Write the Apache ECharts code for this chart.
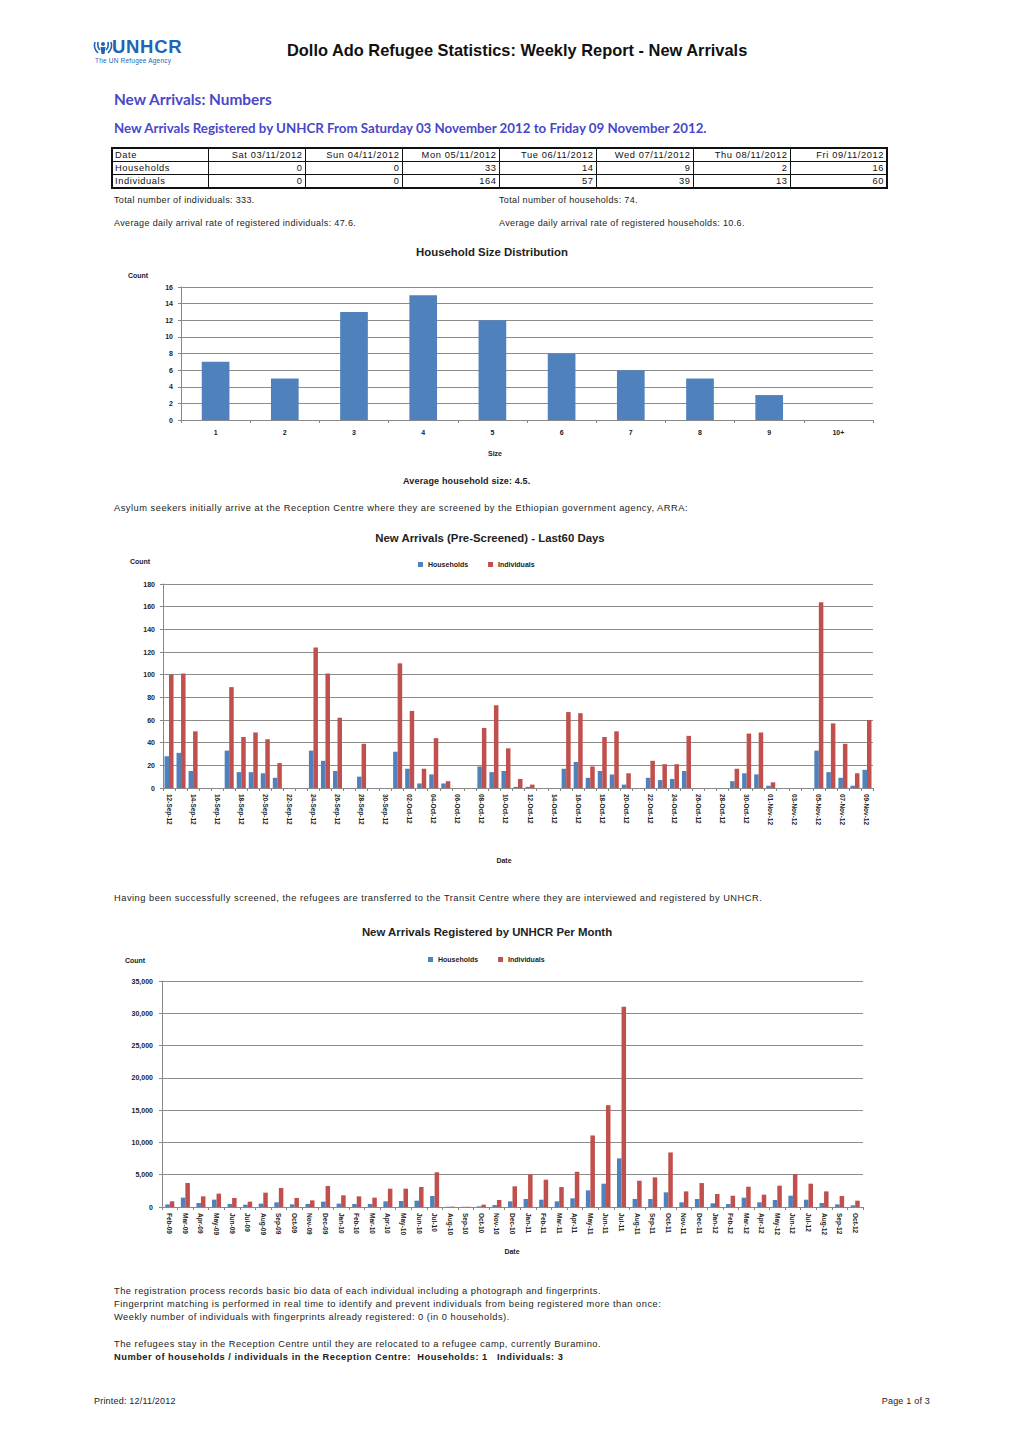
<!DOCTYPE html>
<html><head><meta charset="utf-8">
<script src="https://cdn.jsdelivr.net/npm/echarts@6/dist/echarts.min.js"></script>
<style>
html,body{margin:0;padding:0;background:#fff;}
#page{position:relative;width:1024px;height:1449px;overflow:hidden;font-family:'Liberation Sans',Arial,sans-serif;color:#1a1a1a;background:#fff;}
.t{position:absolute;white-space:nowrap;line-height:1;}
.small{font-size:9.3px;letter-spacing:0.5px;color:#222;}
.tiny{font-size:9px;letter-spacing:0.35px;color:#222;}
.chart{position:absolute;}
#tbl{position:absolute;left:111px;top:147px;width:774px;border-collapse:collapse;border:2px solid #111;font-size:9.3px;letter-spacing:0.6px;table-layout:fixed;color:#111;}
#tbl td{border:1px solid #111;padding:0 2px;height:12px;line-height:12px;text-align:right;white-space:nowrap;overflow:hidden;}
#tbl td:first-child{text-align:left;}
</style></head>
<body><div id="page">
  <!-- logo -->
  <svg class="t" style="left:92px;top:39px" width="22" height="18" viewBox="0 0 22 18">
    <g fill="none" stroke="#1f64b5" stroke-width="1.6">
      <path d="M3 3 Q1 9 6 14"/><path d="M19 3 Q21 9 16 14"/>
      <path d="M6 3 Q5 8 8 11"/><path d="M16 3 Q17 8 14 11"/>
    </g>
    <circle cx="11" cy="5" r="2" fill="#1f64b5"/>
    <path d="M8.5 8 L13.5 8 L12.5 15 L9.5 15 Z" fill="#1f64b5"/>
  </svg>
  <div class="t" style="left:112px;top:38px;font-size:18.5px;font-weight:bold;color:#1f64b5;letter-spacing:0.7px">UNHCR</div>
  <div class="t" style="left:95px;top:57.5px;font-size:6.5px;color:#1f64b5;letter-spacing:0.2px">The UN Refugee Agency</div>
  <div class="t" id="mainTitle" style="left:287px;top:42px;font-size:16.4px;font-weight:bold;color:#111">Dollo Ado Refugee Statistics: Weekly Report - New Arrivals</div>

  <div class="t" style="left:114px;top:92px;font-family:Lato,'Open Sans',sans-serif;font-size:15.4px;font-weight:bold;color:#4848c8">New Arrivals: Numbers</div>
  <div class="t" style="left:114px;top:122px;font-family:Lato,'Open Sans',sans-serif;font-size:13.3px;font-weight:bold;color:#4848c8">New Arrivals Registered by UNHCR From Saturday 03 November 2012 to Friday 09 November 2012.</div>

  <table id="tbl"></table>

  <div class="t tiny" style="left:114px;top:196px">Total number of individuals: 333.</div>
  <div class="t tiny" style="left:499px;top:196px">Total number of households: 74.</div>
  <div class="t tiny" style="left:114px;top:219px">Average daily arrival rate of registered individuals: 47.6.</div>
  <div class="t tiny" style="left:499px;top:219px">Average daily arrival rate of registered households: 10.6.</div>

  <div id="c1" class="chart" style="left:100px;top:240px;width:800px;height:230px"></div>
  <div class="t" style="left:403px;top:477px;font-size:9px;letter-spacing:0.15px;font-weight:bold;color:#222">Average household size: 4.5.</div>

  <div class="t small" style="left:114px;top:504px">Asylum seekers initially arrive at the Reception Centre where they are screened by the Ethiopian government agency, ARRA:</div>

  <div id="c2" class="chart" style="left:100px;top:525px;width:800px;height:345px"></div>

  <div class="t small" style="left:114px;top:894px">Having been successfully screened, the refugees are transferred to the Transit Centre where they are interviewed and registered by UNHCR.</div>

  <div id="c3" class="chart" style="left:100px;top:920px;width:800px;height:340px"></div>

  <div class="t small" style="left:114px;top:1287px">The registration process records basic bio data of each individual including a photograph and fingerprints.</div>
  <div class="t small" style="left:114px;top:1300px">Fingerprint matching is performed in real time to identify and prevent individuals from being registered more than once:</div>
  <div class="t small" style="left:114px;top:1313px">Weekly number of individuals with fingerprints already registered: 0 (in 0 households).</div>
  <div class="t small" style="left:114px;top:1340px">The refugees stay in the Reception Centre until they are relocated to a refugee camp, currently Buramino.</div>
  <div class="t small" style="left:114px;top:1353px;font-weight:bold;letter-spacing:0.5px">Number of households / individuals in the Reception Centre:&nbsp; Households: 1&nbsp;&nbsp; Individuals: 3</div>

  <div class="t" style="left:94px;top:1397px;font-size:9px;letter-spacing:0.2px;color:#222">Printed: 12/11/2012</div>
  <div class="t" style="right:94px;top:1397px;font-size:9px;letter-spacing:0.2px;color:#222">Page 1 of 3</div>
</div>
<script>
// ---------- data ----------
const tableDates = ['Sat 03/11/2012','Sun 04/11/2012','Mon 05/11/2012','Tue 06/11/2012','Wed 07/11/2012','Thu 08/11/2012','Fri 09/11/2012'];
const tableHouseholds = [0,0,33,14,9,2,16];
const tableIndividuals = [0,0,164,57,39,13,60];

const sizeCats = ['1','2','3','4','5','6','7','8','9','10+'];
const sizeCounts = [7,5,13,15,12,8,6,5,3,0];

const dayLabels = ['12-Sep-12','13-Sep-12','14-Sep-12','15-Sep-12','16-Sep-12','17-Sep-12','18-Sep-12','19-Sep-12','20-Sep-12','21-Sep-12','22-Sep-12','23-Sep-12','24-Sep-12','25-Sep-12','26-Sep-12','27-Sep-12','28-Sep-12','29-Sep-12','30-Sep-12',
 '01-Oct-12','02-Oct-12','03-Oct-12','04-Oct-12','05-Oct-12','06-Oct-12','07-Oct-12','08-Oct-12','09-Oct-12','10-Oct-12','11-Oct-12','12-Oct-12','13-Oct-12','14-Oct-12','15-Oct-12','16-Oct-12','17-Oct-12','18-Oct-12','19-Oct-12','20-Oct-12','21-Oct-12','22-Oct-12','23-Oct-12','24-Oct-12','25-Oct-12','26-Oct-12','27-Oct-12','28-Oct-12','29-Oct-12','30-Oct-12','31-Oct-12',
 '01-Nov-12','02-Nov-12','03-Nov-12','04-Nov-12','05-Nov-12','06-Nov-12','07-Nov-12','08-Nov-12','09-Nov-12'];
const dayHouseholds = [28,31,15,0,0,33,14,14,13,9,0,0,33,24,15,0,10,0,0,32,17,4,12,4,0,0,19,14,15,1,1,0,0,17,23,9,15,12,3,0,9,7,8,15,0,0,0,6,13,12,2,0,0,0,33,14,9,2,16];
const dayIndividuals = [100,101,50,0,0,89,45,49,43,22,0,0,124,101,62,0,39,0,0,110,68,17,44,6,0,0,53,73,35,8,3,0,0,67,66,19,45,50,13,0,24,21,21,46,0,0,0,17,48,49,5,0,0,0,164,57,39,13,60];

const monthLabels = ['Feb-09','Mar-09','Apr-09','May-09','Jun-09','Jul-09','Aug-09','Sep-09','Oct-09','Nov-09','Dec-09',
 'Jan-10','Feb-10','Mar-10','Apr-10','May-10','Jun-10','Jul-10','Aug-10','Sep-10','Oct-10','Nov-10','Dec-10',
 'Jan-11','Feb-11','Mar-11','Apr-11','May-11','Jun-11','Jul-11','Aug-11','Sep-11','Oct-11','Nov-11','Dec-11',
 'Jan-12','Feb-12','Mar-12','Apr-12','May-12','Jun-12','Jul-12','Aug-12','Sep-12','Oct-12'];
const monthHouseholds = [400,1450,620,1140,470,360,520,720,410,470,830,520,470,470,880,930,980,1700,40,30,100,300,880,1240,1130,880,1340,2580,3610,7530,1240,1240,2270,720,1240,570,460,1440,720,1080,1750,1130,620,410,260];
const monthIndividuals = [880,3720,1650,2070,1400,830,2220,2950,1400,1030,3260,1810,1650,1450,2840,2840,3100,5380,60,40,360,1080,3200,5050,4230,3090,5460,11080,15770,31030,4070,4590,8450,2420,3710,2010,1750,3140,1910,3300,5100,3610,2420,1700,980];

// ---------- table ----------
(function(){
  const tbl = document.getElementById('tbl');
  const colW = [96,97,97,97,97,97,97,97];
  let html = '<colgroup>' + colW.map(w=>'<col style="width:'+w+'px">').join('') + '</colgroup>';
  html += '<tr><td>Date</td>' + tableDates.map(d=>'<td>'+d+'</td>').join('') + '</tr>';
  html += '<tr><td>Households</td>' + tableHouseholds.map(v=>'<td>'+v+'</td>').join('') + '</tr>';
  html += '<tr><td>Individuals</td>' + tableIndividuals.map(v=>'<td>'+v+'</td>').join('') + '</tr>';
  tbl.innerHTML = html;
})();

// ---------- charts ----------
const BLUE = '#4F81BD', RED = '#C0504D';
const FF = "'Liberation Sans', Arial, sans-serif";
const axisFont = {fontFamily: FF, fontSize: 7, fontWeight: 'bold', color: '#222'};
const gridLine = {lineStyle: {color: '#8c8c8c', width: 1}};
function txt(x, y, s, size, bold, align){
  return {type:'text', x:x, y:y, silent:true, style:{text:s, font:(bold?'bold ':'')+size+'px '+FF, fill:'#222', align:align||'center', verticalAlign:'middle'}};
}
function yAxisBase(){
  return {type:'value', axisLine:{show:true, lineStyle:{color:'#888'}}, axisTick:{show:true, length:3, lineStyle:{color:'#888'}},
    splitLine: gridLine, axisLabel:Object.assign({margin:8}, axisFont)};
}

const c1 = echarts.init(document.getElementById('c1'), null, {renderer:'svg'});
c1.setOption({
  animation:false,
  grid:{left:81, top:47, right:27, bottom:50},
  xAxis:{type:'category', data:sizeCats, axisLine:{lineStyle:{color:'#888'}},
    axisTick:{show:true, length:3, lineStyle:{color:'#888'}}, axisLabel:Object.assign({margin:9}, axisFont)},
  yAxis:Object.assign(yAxisBase(), {min:0, max:16, interval:2}),
  series:[{type:'bar', data:sizeCounts, barWidth:'40%', itemStyle:{color:BLUE}}],
  graphic:[txt(392, 12, 'Household Size Distribution', 11.4, true), txt(38, 35, 'Count', 7, true), txt(395, 213, 'Size', 7, true)]
});

const c2 = echarts.init(document.getElementById('c2'), null, {renderer:'svg'});
c2.setOption({
  animation:false,
  grid:{left:63, top:59, right:27, bottom:82},
  legend:{left:313, top:31, icon:'rect', itemWidth:5, itemHeight:5, itemGap:20, textStyle:{fontFamily:FF, fontSize:7, fontWeight:'bold', color:'#222'}},
  xAxis:{type:'category', data:dayLabels, axisLine:{lineStyle:{color:'#888'}},
    axisTick:{show:true, length:3, interval:0, lineStyle:{color:'#888'}},
    axisLabel:Object.assign({interval:1, rotate:-90, margin:6}, axisFont, {fontSize:6.5})},
  yAxis:Object.assign(yAxisBase(), {min:0, max:180, interval:20}),
  series:[
    {name:'Households', type:'bar', data:dayHouseholds, itemStyle:{color:BLUE}, barGap:'0%', barCategoryGap:'25%'},
    {name:'Individuals', type:'bar', data:dayIndividuals, itemStyle:{color:RED}, barGap:'0%', barCategoryGap:'25%'}
  ],
  graphic:[txt(390, 13, 'New Arrivals (Pre-Screened) - Last60 Days', 11.4, true), txt(40, 36, 'Count', 7, true), txt(404, 335, 'Date', 7, true)]
});

const c3 = echarts.init(document.getElementById('c3'), null, {renderer:'svg'});
c3.setOption({
  animation:false,
  grid:{left:62, top:61, right:37, bottom:53},
  legend:{left:323, top:31, icon:'rect', itemWidth:5, itemHeight:5, itemGap:20, textStyle:{fontFamily:FF, fontSize:7, fontWeight:'bold', color:'#222'}},
  xAxis:{type:'category', data:monthLabels, axisLine:{lineStyle:{color:'#888'}},
    axisTick:{show:true, length:3, interval:0, lineStyle:{color:'#888'}},
    axisLabel:Object.assign({interval:0, rotate:-90, margin:6}, axisFont, {fontSize:6.5})},
  yAxis:Object.assign(yAxisBase(), {min:0, max:35000, interval:5000,
    axisLabel:Object.assign({margin:9, formatter:v=>v.toLocaleString('en-US')}, axisFont)}),
  series:[
    {name:'Households', type:'bar', data:monthHouseholds, itemStyle:{color:BLUE}, barGap:'0%', barCategoryGap:'42%'},
    {name:'Individuals', type:'bar', data:monthIndividuals, itemStyle:{color:RED}, barGap:'0%', barCategoryGap:'42%'}
  ],
  graphic:[txt(387, 12, 'New Arrivals Registered by UNHCR Per Month', 11.4, true), txt(35, 40, 'Count', 7, true), txt(412, 331, 'Date', 7, true)]
});
</script>
</body></html>
